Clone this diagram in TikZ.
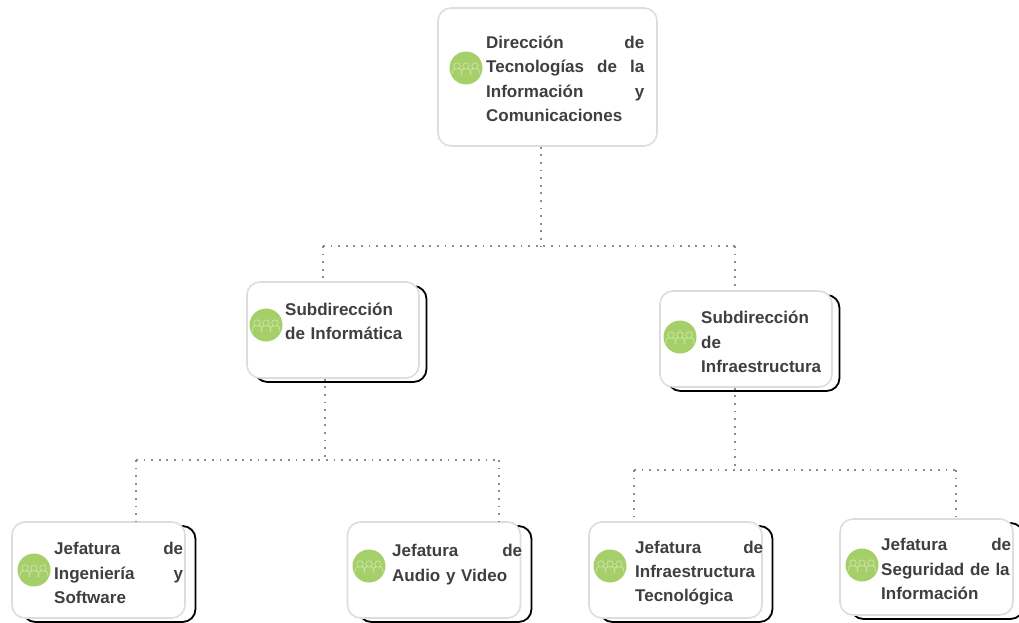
\documentclass[tikz,border=0pt]{standalone}
\usepackage{fontspec}
\setmainfont{Liberation Sans}
\newcommand{\jst}[1]{\leavevmode\hbox to \linewidth{#1}}
\tikzset{
  x=1pt,y=-1pt,
  card/.style={draw=cardline,line width=1.6pt,fill=white,rounded corners=13pt,inner sep=0pt,minimum width=#1},
  backcard/.style={draw=black,line width=1.8pt,fill=white,rounded corners=13pt,inner sep=0pt,minimum width=#1},
  label/.style={anchor=west,inner sep=0pt,text=labelc,font=\fontsize{17}{24.3}\bfseries\selectfont,align=left,text width=#1},
  icon/.style={circle,fill=icong,inner sep=0pt,minimum size=33pt,
    path picture={
      \foreach \dx in {-9,0,9}{
        \draw[iconl,line width=.7pt,shift={(path picture bounding box.center)}]
          (\dx,-2) circle[radius=3.2]
          (\dx-5,7) .. controls (\dx-5,1) and (\dx-3,1) .. (\dx-2,1)
          (\dx+5,7) .. controls (\dx+5,1) and (\dx+3,1) .. (\dx+2,1);
      }}},
  dotline/.style={draw=dotc,line width=1.8pt,dash pattern=on 1.8pt off 5.8pt}
}
\definecolor{cardline}{HTML}{DDDDDD}
\definecolor{labelc}{HTML}{3F3F43}
\definecolor{icong}{HTML}{A5CF68}
\definecolor{iconl}{HTML}{CFE5AE}
\definecolor{dotc}{HTML}{8A8A8A}
\begin{document}
\begin{tikzpicture}
\useasboundingbox (0,0) rectangle (1019,623);
% top
\node[card=219pt,minimum height=138pt] (top) at (547.5,77) {};
\node[icon] (itop) at (466,68) {};
\node[label=158pt] (ttop) at (486,79) {\jst{Dirección\hfill de}\\\jst{Tecnologías\hfill de\hfill la}\\\jst{Información\hfill y}\\Comunicaciones};
% subdireccion informatica
\node[backcard=172pt,minimum height=96pt] (bsub1) at (340.5,334) {};
\node[card=172pt,minimum height=96pt] (sub1) at (333,330) {};
\node[icon] (isub1) at (266,325) {};
\node[label=125pt] (tsub1) at (285,321) {Subdirección\\de Informática};
% subdireccion infraestructura
\node[backcard=172pt,minimum height=96pt] (bsub2) at (753.5,343) {};
\node[card=172pt,minimum height=96pt] (sub2) at (746,339) {};
\node[icon] (isub2) at (680,337) {};
\node[label=125pt] (tsub2) at (701,342) {Subdirección\\de\\Infraestructura};
% jefaturas
\node[backcard=173pt,minimum height=96pt] (bj1) at (109,574) {};
\node[card=173pt,minimum height=96pt] (j1) at (98.5,570) {};
\node[icon] (ij1) at (34,570) {};
\node[label=129pt] (tj1) at (54,573) {\jst{Jefatura\hfill de}\\\jst{Ingeniería\hfill y}\\Software};
\node[backcard=173pt,minimum height=96pt] (bj2) at (445,574) {};
\node[card=173pt,minimum height=96pt] (j2) at (434,570) {};
\node[icon] (ij2) at (369,566) {};
\node[label=130pt] (tj2) at (392,564.5) {\jst{Jefatura\hfill de}\\Audio y Video};
\node[backcard=173pt,minimum height=96pt] (bj3) at (686,574) {};
\node[card=173pt,minimum height=96pt] (j3) at (675.5,570) {};
\node[icon] (ij3) at (610,566) {};
\node[label=128pt] (tj3) at (635,573) {\jst{Jefatura\hfill de}\\Infraestructura\\Tecnológica};
\node[backcard=173pt,minimum height=96pt] (bj4) at (937,571) {};
\node[card=173pt,minimum height=96pt] (j4) at (926.5,567) {};
\node[icon] (ij4) at (862,565) {};
\node[label=130pt] (tj4) at (881,569) {\jst{Jefatura\hfill de}\\Seguridad de la\\Información};
% connectors
\coordinate (a0) at (541,246);
\coordinate (al) at (323,246);
\coordinate (ar) at (735,246);
\draw[dotline] (a0 |- top.south) -- (a0);
\draw[dotline] (al) -- (ar);
\draw[dotline] (al) -- (al |- sub1.north);
\draw[dotline] (ar) -- (ar |- sub2.north);
\coordinate (b0) at (325,460);
\coordinate (bl) at (136,460);
\coordinate (br) at (499,460);
\draw[dotline] (b0 |- sub1.south) -- (b0);
\draw[dotline] (bl) -- (br);
\draw[dotline] (bl) -- (bl |- j1.north);
\draw[dotline] (br) -- (br |- j2.north);
\coordinate (c0) at (735,470);
\coordinate (cl) at (634,470);
\coordinate (cr) at (956,470);
\draw[dotline] (c0 |- sub2.south) -- (c0);
\draw[dotline] (cl) -- (cr);
\draw[dotline] (cl) -- (cl |- j3.north);
\draw[dotline] (cr) -- (cr |- j4.north);
\end{tikzpicture}
\end{document}
